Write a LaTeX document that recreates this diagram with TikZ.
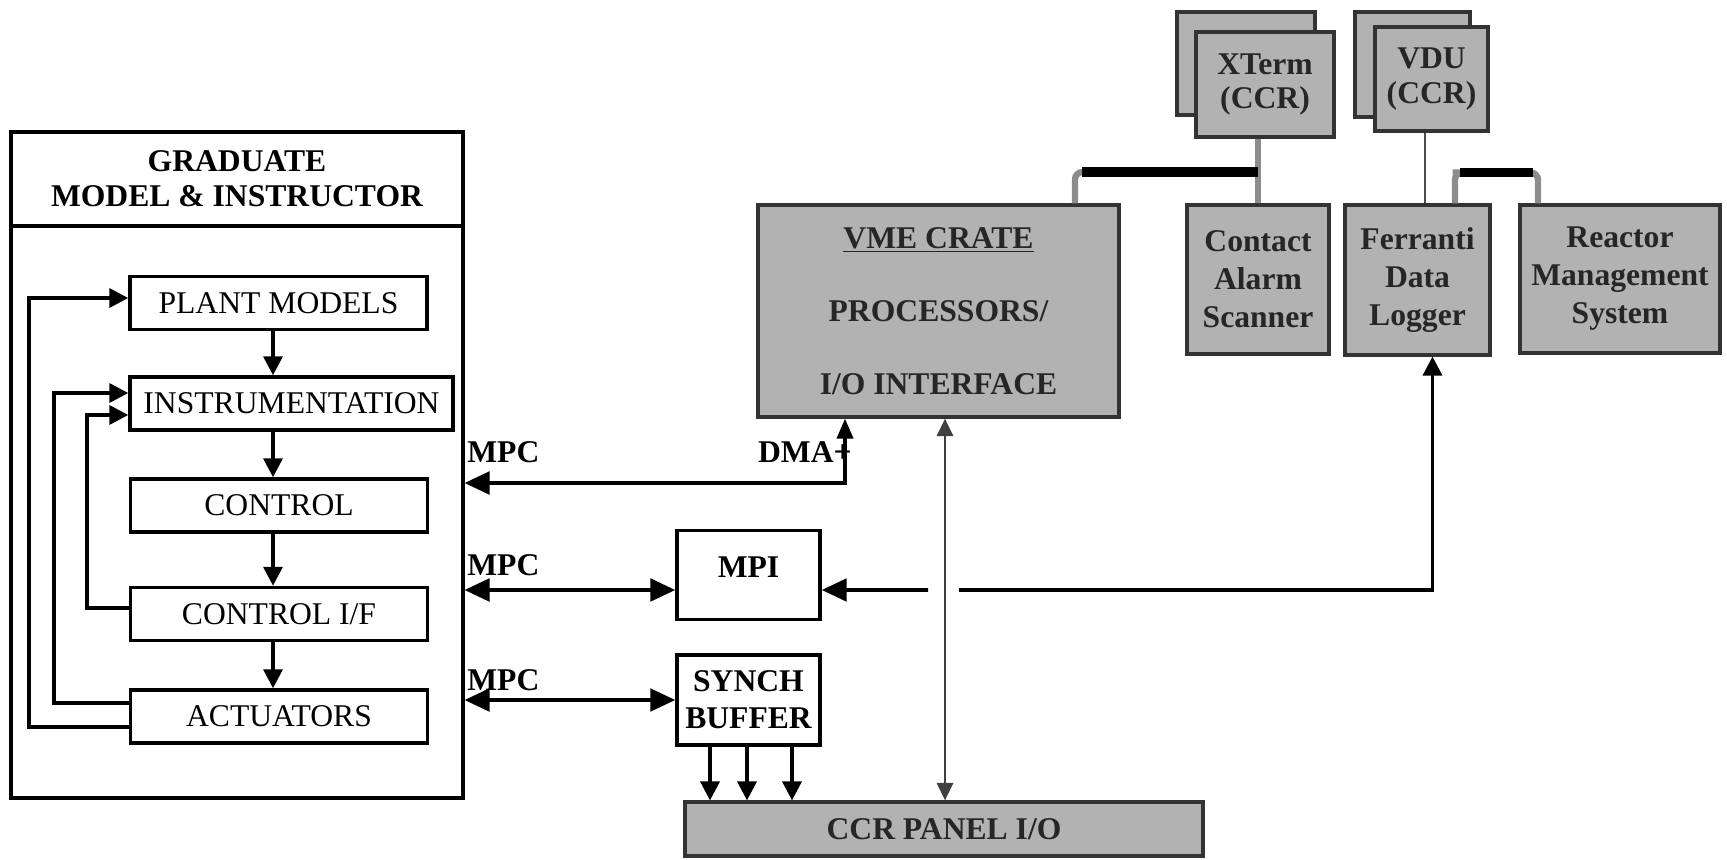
\documentclass[tikz,border=0pt]{standalone}
\usepackage{fontspec}
\setmainfont{Liberation Serif}
\usetikzlibrary{arrows.meta,positioning}

\begin{document}
\begin{tikzpicture}[
    x={(0.02cm,0)}, y={(0,-0.02cm)},
    every node/.style={font=\fontsize{18}{21}\selectfont},
    outer/.style={
        rectangle,
        draw=black,
        line width=1.8pt,
        inner sep=0pt
    },
    box/.style={
        rectangle,
        draw=black,
        line width=2pt,
        fill=white,
        align=center,
        inner sep=0pt,
        minimum width=5.94cm,
        minimum height=1.06cm
    },
    whitebox/.style={
        rectangle,
        draw=black,
        line width=2pt,
        fill=white,
        align=center,
        inner sep=0pt,
        font=\fontsize{18}{21}\selectfont\bfseries,
        minimum width=2.86cm,
        minimum height=1.78cm
    },
    graybox/.style={
        rectangle,
        draw=black!80,
        line width=1.8pt,
        fill=black!30,
        align=center,
        inner sep=0pt,
        text=black!85,
        font=\fontsize{18}{21.6}\selectfont\bfseries
    },
    arrow/.style={-{Triangle[length=0.38cm,width=0.38cm]}, line width=2pt},
    bigarrow/.style={-{Triangle[length=0.5cm,width=0.45cm]}, line width=2.2pt},
    dblarrow/.style={{Triangle[length=0.5cm,width=0.45cm]}-{Triangle[length=0.5cm,width=0.45cm]}, line width=2.2pt},
    link/.style={line width=3.6pt, draw=black!45},
    bus/.style={line width=5.5pt, draw=black},
    lbl/.style={font=\fontsize{18}{20}\selectfont\bfseries, inner sep=0pt}
]
\useasboundingbox (0,0) rectangle (1727,859);

% graduate block
\node[outer, minimum width=9.04cm, minimum height=13.32cm] (grad) at (237,465) {};
\node[outer, minimum width=9.04cm, minimum height=1.88cm, anchor=north, align=center,
      font=\fontsize{18}{20}\selectfont\bfseries] (head) at (grad.north) {GRADUATE\\MODEL \& INSTRUCTOR};

\node[box] (plant) at (278.5,303) {PLANT MODELS};
\node[box, minimum width=6.46cm] (instr) at (291.5,403.5) {INSTRUMENTATION};
\node[box] (control) at (279,505.5) {CONTROL};
\node[box] (ctrlif) at (279,614) {CONTROL I/F};
\node[box] (act) at (279,716.5) {ACTUATORS};

\coordinate (spine) at (273,0);
\foreach \a/\b in {plant/instr, instr/control, control/ctrlif, ctrlif/act}
    \draw[arrow] (\a.south -| spine) -- (\b.north -| spine);

% feedback loops
\draw[arrow] ([yshift=-0.21cm]act.west) -- ++(-100,0) |- ([yshift=0.1cm]plant.west);
\draw[arrow] ([yshift=0.27cm]act.west) -- ++(-75,0) |- ([yshift=0.21cm]instr.west);
\draw[arrow] ([yshift=0.12cm]ctrlif.west) -- ++(-42,0) |- ([yshift=-0.23cm]instr.west);

% interface boxes
\node[whitebox] (mpi) at (748.5,575) {\raisebox{0.3cm}{MPI}};
\node[whitebox, minimum height=1.8cm] (synch) at (748.5,700) {SYNCH\\BUFFER};
\node[graybox, minimum width=10.36cm, minimum height=1.08cm] (ccr) at (944,829) {CCR PANEL I/O};
\node[graybox, minimum width=7.22cm, minimum height=4.24cm] (vme) at (938.5,311)
    {\underline{VME CRATE}\\[20pt]PROCESSORS/\\[20pt]I/O INTERFACE};

% plant side systems
\node[graybox, minimum width=2.84cm, minimum height=2.98cm] (contact) at (1258,279.5) {Contact\\Alarm\\Scanner};
\node[graybox, minimum width=2.9cm, minimum height=3.0cm] (ferranti) at (1417.5,280) {Ferranti\\Data\\Logger};
\node[graybox, minimum width=4.0cm, minimum height=2.96cm] (reactor) at (1620,279) {Reactor\\Management\\System};

% terminals
\node[graybox, minimum width=2.76cm, minimum height=2.06cm] (xtermB) at (1246,63.5) {};
\node[graybox, minimum width=2.76cm, minimum height=2.1cm, font=\fontsize{18}{19.5}\selectfont\bfseries]
    (xtermF) at (1265,84.5) {XTerm\\(CCR)};
\node[graybox, minimum width=2.3cm, minimum height=2.1cm] (vduB) at (1412.5,64.5) {};
\node[graybox, minimum width=2.26cm, minimum height=2.08cm, font=\fontsize{18}{19.5}\selectfont\bfseries]
    (vduF) at (1431.5,79) {VDU\\(CCR)};

% network links
\draw[link] (xtermF.south -| contact.north) -- (contact.north);
\coordinate (busL) at (1082,172);
\draw[link, rounded corners=0.15cm] ([xshift=2.73cm]vme.north) |- (busL -| contact.north);
\draw[bus] (busL) -- (busL -| contact.north);

\draw[line width=1pt, draw=black!70] ([xshift=0.15cm]ferranti.north) -- ([xshift=0.15cm]ferranti.north |- vduF.south);
\coordinate (busR) at (1460,172.5);
\draw[link, rounded corners=0.15cm] ([xshift=0.75cm]ferranti.north) |- (busR) -| ([xshift=-1.64cm]reactor.north);
\draw[bus] (busR) -- ++(73,0);

% MPC connections
\coordinate (dma) at (845,483);
\draw[{Triangle[length=0.5cm,width=0.45cm]}-{Triangle[length=0.4cm,width=0.32cm]}, line width=2.2pt]
    (dma -| grad.east) -| ([xshift=-1.87cm]vme.south);
\draw[dblarrow] ([yshift=-0.3cm]mpi.west -| grad.east) -- ([yshift=-0.3cm]mpi.west);
\draw[dblarrow] (synch.west -| grad.east) -- (synch.west);

\coordinate (gapL) at (928,590);
\coordinate (gapR) at (959,590);
\draw[bigarrow] (gapL) -- ([yshift=-0.3cm]mpi.east);
\draw[arrow] (gapR) -| ([xshift=0.3cm]ferranti.south);

\draw[{Triangle[length=0.35cm,width=0.32cm]}-{Triangle[length=0.35cm,width=0.32cm]}, line width=1.6pt, draw=black!75]
    ([xshift=0.13cm]vme.south) -- ([xshift=0.13cm]vme.south |- ccr.north);

\foreach \dx in {-0.77,-0.03,0.87}
    \draw[arrow] ([xshift=\dx cm]synch.south) -- ([xshift=\dx cm]synch.south |- ccr.north);

% labels
\node[lbl, anchor=west] (mpcA) at (467,452) {MPC};
\node[lbl, anchor=west] (mpcB) at (467,565) {MPC};
\node[lbl, anchor=west] (mpcC) at (467,680) {MPC};
\node[lbl, anchor=east] (dmalbl) at (852,452) {DMA+};

\end{tikzpicture}
\end{document}
